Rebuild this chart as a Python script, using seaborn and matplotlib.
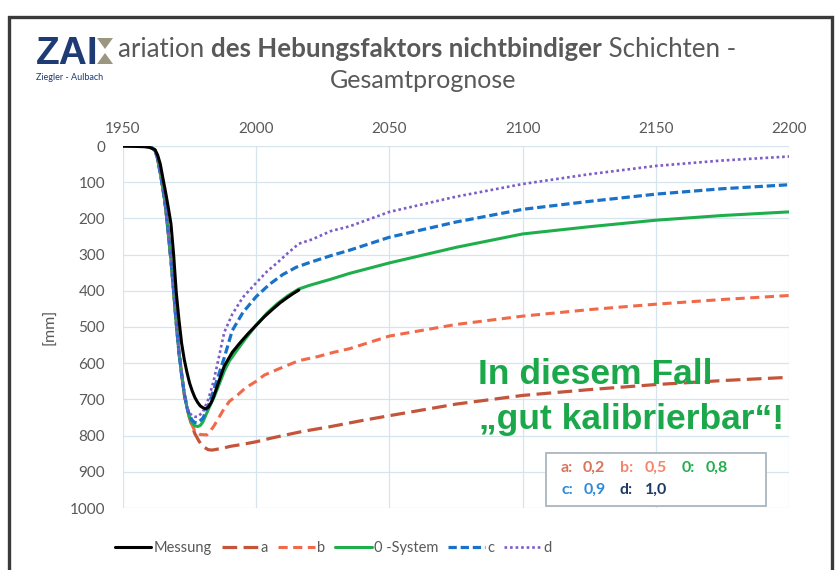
import matplotlib
matplotlib.use("Agg")
import matplotlib.pyplot as plt
import matplotlib.patches as mpatches
import seaborn as sns

# Messwerte (Senkung in mm)
mess_years = [1950, 1958, 1960, 1962, 1963, 1964, 1965, 1966, 1967, 1968, 1969, 1970, 1971,
              1972, 1973, 1974, 1975, 1976, 1977, 1978, 1979, 1980, 1981, 1982, 1983, 1984,
              1986, 1988, 1991, 1994, 1997, 2000, 2003, 2006, 2009, 2012, 2014, 2016]
mess_mm = [0, 2, 4, 10, 25, 50, 90, 128, 170, 215, 300, 405, 480,
           545, 590, 625, 655, 677, 695, 708, 718, 723, 726, 722, 710, 693,
           650, 608, 570, 543, 518, 495, 472, 452, 433, 417, 407, 398]

# gemeinsamer Senkungsast aller Prognosen
early_years = [1950, 1958, 1960, 1961, 1962, 1963, 1964, 1965, 1966, 1967, 1968, 1969,
               1970, 1971, 1972, 1973, 1974]
early_mm = [0, 0, 2, 6, 12, 35, 75, 118, 170, 240, 315, 400,
            490, 570, 630, 685, 722]

# Prognosen ab 1975
a_years = [1975, 1976, 1977, 1978.5, 1980, 1982, 1983.5, 1985, 1987.5, 1990, 1995, 2000,
           2005, 2010, 2017, 2028, 2040, 2050, 2075, 2100, 2125, 2150, 2175, 2200]
a_mm = [752, 775, 795, 815, 830, 839, 840, 838, 835, 830, 824, 817,
        808, 800, 789, 775, 758, 745, 713, 689, 673, 659, 648, 639]

b_years = [1975, 1976, 1977, 1979, 1981.5, 1983, 1984, 1986, 1988, 1990, 1993, 1996, 2000,
           2003, 2009, 2016, 2023, 2029, 2035, 2050, 2075, 2100, 2125, 2150, 2175, 2200]
b_mm = [752, 772, 788, 797, 798, 785, 775, 750, 725, 705, 688, 668, 650,
        633, 614, 593, 582, 570, 560, 525, 493, 470, 452, 437, 424, 413]

sys0_years = [1975, 1976, 1977, 1978, 1979, 1980, 1981, 1982, 1983, 1984, 1986, 1988, 1990,
              1993, 1996, 2000, 2004, 2008, 2012, 2016, 2020, 2028, 2035, 2050, 2075, 2100,
              2125, 2150, 2175, 2200]
sys0_mm = [748, 765, 773, 775, 772, 762, 745, 728, 712, 697, 660, 622, 593,
           562, 532, 495, 462, 435, 413, 395, 385, 368, 352, 323, 280, 243,
           223, 205, 192, 182]

c_years = [1975, 1976, 1977, 1978, 1980, 1982, 1984, 1986, 1988, 1991, 1995, 2000, 2005,
           2010, 2015, 2020, 2028, 2035, 2050, 2075, 2100, 2125, 2150, 2175, 2200]
c_mm = [745, 758, 764, 765, 752, 718, 675, 630, 585, 510, 460, 416, 382,
        355, 335, 322, 303, 288, 252, 210, 175, 153, 133, 118, 107]

d_years = [1975, 1976, 1977, 1978, 1980, 1982, 1984, 1985.5, 1988, 1991, 1995, 2000, 2004,
           2008, 2012, 2016, 2021, 2028, 2035, 2050, 2075, 2100, 2125, 2150, 2175, 2200]
d_mm = [738, 745, 748, 748, 735, 700, 650, 600, 515, 465, 418, 378, 347,
        322, 295, 270, 258, 235, 222, 182, 140, 105, 78, 55, 40, 29]

x_ticks = [1950, 2000, 2050, 2100, 2150, 2200]
y_ticks = [0, 100, 200, 300, 400, 500, 600, 700, 800, 900, 1000]

grey_txt = "#595959"
grid_col = "#d6e4ee"

sns.set_theme(style="white")
plt.rcParams["font.family"] = ["Lato", "DejaVu Sans"]

W, H = 836, 570
fig = plt.figure(figsize=(W / 100, H / 100), dpi=100)
fig.patch.set_facecolor("white")
ax = fig.add_axes([123 / W, 1 - 508 / H, 666 / W, 362 / H])

series = [
    ("Messung", mess_years, mess_mm, "#000000", "-", 2.2),
    ("a", early_years + a_years, early_mm + a_mm, "#c4553b", (0, (4.6, 2.0)), 2.3),
    ("b", early_years + b_years, early_mm + b_mm, "#f2694a", (0, (3.0, 1.8)), 2.2),
    ("0 -System", early_years + sys0_years, early_mm + sys0_mm, "#1fae4c", "-", 2.2),
    ("c", early_years + c_years, early_mm + c_mm, "#1a72c8", (0, (2.6, 1.2)), 2.3),
    ("d", early_years + d_years, early_mm + d_mm, "#7c5cc6", (0, (1.0, 1.1)), 1.9),
]
# Messung zuletzt zeichnen, damit sie oben liegt
order = [1, 2, 3, 4, 5, 0]
for i in order:
    name, xs, ys, col, ls, lw = series[i]
    sns.lineplot(x=xs, y=ys, ax=ax, color=col, linestyle=ls, linewidth=lw,
                 label=name, estimator=None, sort=False, zorder=3 + (i == 0))

ax.set_xlim(1950, 2200)
ax.set_ylim(1000, 0)
ax.set_xticks(x_ticks)
ax.set_yticks(y_ticks)
ax.xaxis.tick_top()
ax.tick_params(axis="both", length=0, colors=grey_txt, labelsize=11)
ax.tick_params(axis="x", pad=7)
ax.tick_params(axis="y", pad=13)
ax.grid(True, color=grid_col, linewidth=0.9)
for s in ax.spines.values():
    s.set_visible(False)
ax.set_xlabel("")
ax.set_ylabel("[mm]", color=grey_txt, fontsize=11.5, labelpad=9)

# Legende unten
handles, labels = ax.get_legend_handles_labels()
lab_order = ["Messung", "a", "b", "0 -System", "c", "d"]
hmap = dict(zip(labels, handles))
ax.get_legend().remove()
leg = fig.legend([hmap[l] for l in lab_order], lab_order, loc="center",
                 bbox_to_anchor=(333 / W, 1 - 548 / H), ncol=6, frameon=False,
                 fontsize=10.5, handlelength=2.5, handletextpad=0.15, columnspacing=0.7)
for t in leg.get_texts():
    t.set_color(grey_txt)

# Kasten mit Faktoren
ax.add_patch(mpatches.Rectangle(((546 - 123) / 666, (508 - 506) / 362), 220 / 666, 53 / 362,
                                transform=ax.transAxes, fill=True, facecolor="white",
                                edgecolor="#a9b5bf", linewidth=1.3, zorder=5))
box_items = [("a:", "0,2", 561, 583, 0, "#d9735c"),
             ("b:", "0,5", 620, 645, 0, "#f3866a"),
             ("0:", "0,8", 682, 706, 0, "#1fae4c"),
             ("c:", "0,9", 561, 584, 1, "#2e8bd8"),
             ("d:", "1,0", 620, 645, 1, "#1f3a64")]
for lab, val, x1, x2, row, col in box_items:
    yy = (508 - (468 + 22 * row)) / 362
    for txt, xp in ((lab, x1), (val, x2)):
        ax.text((xp - 123) / 666, yy, txt, transform=ax.transAxes, color=col,
                fontsize=11.5, fontweight="bold", va="center", ha="left", zorder=6)

# Hinweistext
green_big = "#1ba84a"
ax.text((478 - 123) / 666, (508 - 384) / 362, "In diesem Fall", transform=ax.transAxes,
        color=green_big, fontsize=25.5, fontweight="bold", family="Liberation Sans",
        va="baseline", ha="left", zorder=6)
ax.text((479 - 123) / 666, (508 - 429) / 362, "\u201egut kalibrierbar\u201c!", transform=ax.transAxes,
        color=green_big, fontsize=25.5, fontweight="bold", family="Liberation Sans",
        va="baseline", ha="left", zorder=6)

# Titel (erste Zeile gemischt fett / normal)
pieces = [("ariation ", "normal"), ("des Hebungsfaktors nichtbindiger", "bold"),
          (" Schichten -", "normal")]
renderer = fig.canvas.get_renderer()
texts = []
for txt, wt in pieces:
    t = fig.text(0, 1 - 57 / H, txt, fontsize=18.6, fontweight=wt, color=grey_txt,
                 va="baseline", ha="left")
    texts.append(t)
widths = [t.get_window_extent(renderer).width for t in texts]
x0 = 118
for t, w in zip(texts, widths):
    t.set_x(x0 / W)
    x0 += w
fig.text(423 / W, 1 - 88 / H, "Gesamtprognose", fontsize=18, color=grey_txt,
         va="baseline", ha="center")

# Logo
fig.text(36 / W, 1 - 64 / H, "ZAI", fontsize=28, fontweight="black", color="#1f3b73",
         family="Liberation Sans", va="baseline", ha="left")
fig.text(36 / W, 1 - 80 / H, "Ziegler - Aulbach", fontsize=6.5, color="#1f3b73",
         va="baseline", ha="left")
tri_col = "#9a9680"
for pts in ([(97, 38), (113, 38), (105, 49)], [(97, 64), (113, 64), (105, 53)]):
    fig.patches.append(mpatches.Polygon([(px / W, 1 - py / H) for px, py in pts],
                                        closed=True, transform=fig.transFigure,
                                        facecolor=tri_col, edgecolor="none"))

# Rahmen
fig.patches.append(mpatches.Rectangle((9 / W, -0.02), 823 / W, 1 - 17 / H + 0.02,
                                      transform=fig.transFigure, fill=False,
                                      edgecolor="#3a3a3a", linewidth=2.4))

fig.savefig("out.png", dpi=100, facecolor="white")
